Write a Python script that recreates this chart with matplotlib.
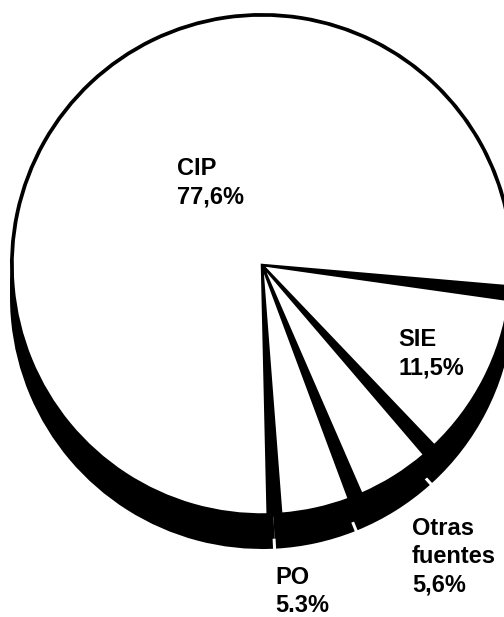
import matplotlib
matplotlib.use("Agg")
import matplotlib.pyplot as plt
from matplotlib.patches import Wedge

# shares of each source (%), listed clockwise starting at the right
labels = ["SIE\n11,5%", "Otras\nfuentes\n5,6%", "PO\n5.3%", "CIP\n77,6%"]
shares = [11.5, 5.6, 5.3, 77.6]
label_pos = [(398, 328), (412, 517), (275, 566), (177, 157)]

# pie geometry in pixel units (y grows downward)
cx, cy, R = 262, 265, 252
depth = 32        # height of the black "side" of the pie
start = 6.5       # angle of the CIP / SIE boundary
gap = 1.55        # half of the angular gap between slices

fig = plt.figure(figsize=(5.04, 6.17), dpi=100)
ax = fig.add_axes([0, 0, 1, 1])
ax.set_xlim(0, 504)
ax.set_ylim(617, 0)
ax.axis("off")

angles = [start]
for s in shares:
    angles.append(angles[-1] + s * 3.6)

# black side of the pie: upper part solid, lower part split per slice
for a1, a2 in zip(angles[:-1], angles[1:]):
    ax.add_patch(Wedge((cx, cy + depth - 10), R, a1, a2, facecolor="black", edgecolor="none"))
    ax.add_patch(Wedge((cx, cy + depth), R, a1 + 0.35, a2 - 0.35, facecolor="black", edgecolor="none"))

# top face: black disc with white slices cut into it
for a1, a2 in zip(angles[:-1], angles[1:]):
    ax.add_patch(Wedge((cx, cy), R, a1, a2, facecolor="black", edgecolor="none"))
for a1, a2 in zip(angles[:-1], angles[1:]):
    ax.add_patch(Wedge((cx, cy), R - 2.5, a1 + gap, a2 - gap, facecolor="white",
                       edgecolor="black", linewidth=1.8))

for lab, (x, y) in zip(labels, label_pos):
    ax.text(x, y, lab, ha="left", va="top", fontsize=17, fontweight="bold",
            family="Liberation Sans", linespacing=1.3)

fig.savefig("out.png", dpi=100, facecolor="white")
